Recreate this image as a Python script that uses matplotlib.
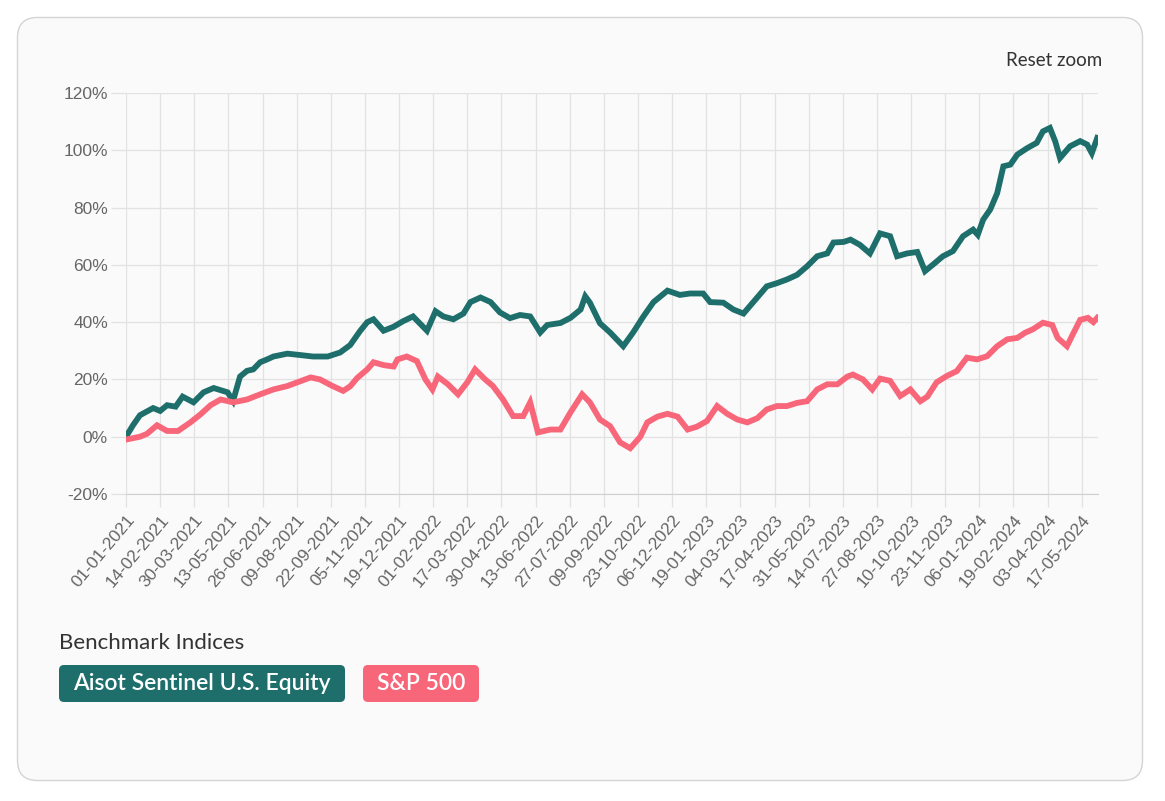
import matplotlib
matplotlib.use("Agg")
import matplotlib.pyplot as plt
import pandas as pd
from matplotlib.patches import FancyBboxPatch

# ── Data (% cumulative return) ───────────────────────────────────────────
aisot_dates = [
    "2021-01-01", "2021-01-10", "2021-01-19", "2021-02-05", "2021-02-14", "2021-02-23",
    "2021-03-06", "2021-03-15", "2021-03-29", "2021-04-11", "2021-04-24", "2021-05-12",
    "2021-05-19", "2021-05-28", "2021-06-06", "2021-06-14", "2021-06-23", "2021-07-02",
    "2021-07-10", "2021-07-28", "2021-08-14", "2021-08-30", "2021-09-18", "2021-10-04",
    "2021-10-17", "2021-10-30", "2021-11-08", "2021-11-16", "2021-11-29", "2021-12-12",
    "2021-12-24", "2022-01-06", "2022-01-24", "2022-02-04", "2022-02-14", "2022-02-27",
    "2022-03-12", "2022-03-21", "2022-04-03", "2022-04-16", "2022-04-28", "2022-05-11",
    "2022-05-24", "2022-06-06", "2022-06-19", "2022-06-28", "2022-07-15", "2022-07-28",
    "2022-08-10", "2022-08-16", "2022-08-22", "2022-09-04", "2022-09-17", "2022-10-04",
    "2022-10-17", "2022-10-30", "2022-11-12", "2022-11-30", "2022-12-16", "2022-12-29",
    "2023-01-15", "2023-01-24", "2023-02-10", "2023-02-23", "2023-03-08", "2023-03-20",
    "2023-04-07", "2023-04-20", "2023-05-03", "2023-05-16", "2023-05-29", "2023-06-11",
    "2023-06-24", "2023-07-02", "2023-07-15", "2023-07-24", "2023-08-05", "2023-08-18",
    "2023-08-31", "2023-09-13", "2023-09-22", "2023-10-05", "2023-10-18", "2023-10-28",
    "2023-11-10", "2023-11-20", "2023-12-03", "2023-12-16", "2023-12-29", "2024-01-04",
    "2024-01-11", "2024-01-20", "2024-01-29", "2024-02-06", "2024-02-15", "2024-02-24",
    "2024-03-08", "2024-03-20", "2024-03-28", "2024-04-06", "2024-04-13", "2024-04-19",
    "2024-05-02", "2024-05-15", "2024-05-24", "2024-05-30", "2024-06-06",
]
aisot_vals = [
    0, 4, 7.5, 10, 9, 11,
    10.5, 14, 12, 15.5, 17, 15.5,
    12.5, 21, 23, 23.5, 26, 27,
    28, 29, 28.5, 28, 28, 29.4,
    32, 37, 40, 41, 37, 38.4,
    40.3, 42, 37, 43.8, 42, 41,
    43, 47, 48.6, 47, 43.4, 41.4,
    42.5, 42, 36.4, 39, 39.7, 41.5,
    44.4, 49, 46.8, 39.6, 36.4, 31.6,
    36.5, 42, 47, 51, 49.5, 50,
    50, 47, 46.8, 44.4, 43, 46.8,
    52.5, 53.6, 54.9, 56.5, 59.5, 63,
    64, 67.8, 68, 68.8, 67, 64,
    71, 70, 63, 64, 64.5, 57.8,
    60.7, 63, 64.8, 70, 72.3, 70.5,
    75.8, 79.3, 85, 94.4, 95, 98.5,
    100.8, 102.6, 106.6, 107.8, 103, 97.3,
    101.4, 103.2, 102, 99, 104.3,
]

sp_dates = [
    "2021-01-01", "2021-01-19", "2021-01-28", "2021-02-10", "2021-02-23", "2021-03-09",
    "2021-03-25", "2021-04-07", "2021-04-20", "2021-05-03", "2021-05-19", "2021-06-06",
    "2021-06-23", "2021-07-10", "2021-07-28", "2021-08-14", "2021-08-27", "2021-09-08",
    "2021-09-25", "2021-10-08", "2021-10-17", "2021-10-26", "2021-11-08", "2021-11-16",
    "2021-11-29", "2021-12-12", "2021-12-17", "2021-12-29", "2022-01-11", "2022-01-22",
    "2022-01-31", "2022-02-07", "2022-02-20", "2022-03-05", "2022-03-17", "2022-03-27",
    "2022-04-09", "2022-04-19", "2022-05-02", "2022-05-15", "2022-05-28", "2022-06-06",
    "2022-06-16", "2022-07-02", "2022-07-15", "2022-07-28", "2022-08-12", "2022-08-22",
    "2022-09-04", "2022-09-17", "2022-09-30", "2022-10-13", "2022-10-26", "2022-11-04",
    "2022-11-17", "2022-11-30", "2022-12-13", "2022-12-26", "2023-01-07", "2023-01-20",
    "2023-02-02", "2023-02-15", "2023-02-28", "2023-03-13", "2023-03-26", "2023-04-07",
    "2023-04-20", "2023-05-03", "2023-05-16", "2023-05-29", "2023-06-11", "2023-06-24",
    "2023-07-07", "2023-07-20", "2023-07-27", "2023-08-09", "2023-08-21", "2023-08-31",
    "2023-09-13", "2023-09-26", "2023-10-09", "2023-10-22", "2023-10-31", "2023-11-12",
    "2023-11-25", "2023-12-08", "2023-12-21", "2024-01-03", "2024-01-16", "2024-01-29",
    "2024-02-11", "2024-02-24", "2024-03-05", "2024-03-15", "2024-03-28", "2024-04-09",
    "2024-04-16", "2024-04-28", "2024-05-06", "2024-05-15", "2024-05-25", "2024-06-01",
    "2024-06-06",
]
sp_vals = [
    -1, 0, 1, 4, 2, 2,
    5, 7.8, 11, 13, 12, 13,
    14.8, 16.5, 17.7, 19.4, 20.7, 20,
    17.6, 16, 17.6, 20.5, 23.5, 26,
    25, 24.5, 27, 28, 26.4, 20,
    16.5, 21, 18.3, 14.8, 19, 23.5,
    20, 17.7, 13, 7.2, 7.2, 12,
    1.5, 2.5, 2.5, 8.5, 14.8, 12,
    6, 3.7, -2, -4, 0, 5,
    7, 8, 7, 2.5, 3.5, 5.5,
    10.7, 8, 6, 5, 6.5, 9.5,
    10.7, 10.7, 11.8, 12.4, 16.5, 18.3,
    18.3, 21, 21.7, 20, 16.5, 20.3,
    19.5, 14.2, 16.5, 12.4, 14, 19,
    21.2, 22.9, 27.6, 27, 28.1, 31.6,
    34, 34.5, 36.3, 37.5, 39.8, 39,
    34.5, 31.6, 36, 40.8, 41.5, 40,
    41.5,
]

tick_labels = [
    "01-01-2021", "14-02-2021", "30-03-2021", "13-05-2021", "26-06-2021", "09-08-2021",
    "22-09-2021", "05-11-2021", "19-12-2021", "01-02-2022", "17-03-2022", "30-04-2022",
    "13-06-2022", "27-07-2022", "09-09-2022", "23-10-2022", "06-12-2022", "19-01-2023",
    "04-03-2023", "17-04-2023", "31-05-2023", "14-07-2023", "27-08-2023", "10-10-2023",
    "23-11-2023", "06-01-2024", "19-02-2024", "03-04-2024", "17-05-2024",
]
y_ticks = [-20, 0, 20, 40, 60, 80, 100, 120]

series_names = ["Aisot Sentinel U.S. Equity", "S&P 500"]
TEAL = "#1e6f6b"
PINK = "#f8667a"

# ── Figure & card background (pixel coords) ──────────────────────────────
W, H = 1165, 801
fig = plt.figure(figsize=(W / 100, H / 100), dpi=100, facecolor="white")
bg = fig.add_axes([0, 0, 1, 1])
bg.set_xlim(0, W)
bg.set_ylim(H, 0)
bg.axis("off")
bg.add_patch(FancyBboxPatch((17.5, 17.5), 1125, 763,
                            boxstyle="round,pad=0,rounding_size=20",
                            fc="#fafafa", ec="#d4d4d4", lw=1.0))

bg.text(1102, 60, "Reset zoom", ha="right", va="center",
        fontsize=13.5, color="#333333", family="Lato")
bg.text(59, 643, "Benchmark Indices", ha="left", va="center",
        fontsize=16, color="#333333", family="Lato")

# legend pills
pills = [(59, 286, TEAL), (363, 116, PINK)]
for (x0, w, col), name in zip(pills, series_names):
    bg.add_patch(FancyBboxPatch((x0, 665), w, 37,
                                boxstyle="round,pad=0,rounding_size=5",
                                fc=col, ec="none"))
    bg.text(x0 + w / 2, 684, name, ha="center", va="center",
            fontsize=16.5, color="white", family="Lato", weight="semibold")

# ── Main chart ───────────────────────────────────────────────────────────
ax = fig.add_axes([126 / W, 1 - 494 / H, 972 / W, 401 / H])
ax.set_facecolor("none")

ax.plot(pd.to_datetime(aisot_dates), aisot_vals, color=TEAL, lw=4.2,
        solid_joinstyle="miter", zorder=3)
ax.plot(pd.to_datetime(sp_dates), sp_vals, color=PINK, lw=4.2,
        solid_joinstyle="miter", zorder=3)

tick_pos = pd.to_datetime(tick_labels, format="%d-%m-%Y")
ax.set_xticks(tick_pos)
ax.set_xticklabels(tick_labels, rotation=50, ha="right", va="top",
                   rotation_mode="anchor", fontsize=12.5, color="#666666",
                   family="Liberation Sans")
ax.set_yticks(y_ticks)
ax.set_yticklabels([f"{v}%" for v in y_ticks], fontsize=12.5,
                   color="#666666", family="Liberation Sans")
ax.set_xlim(pd.Timestamp("2021-01-01"), pd.Timestamp("2024-06-07"))
ax.set_ylim(-20, 120)

ax.grid(True, color="#e2e2e2", lw=0.9, zorder=0)
ax.tick_params(axis="y", length=11, color="#e2e2e2", width=0.9, pad=2)
ax.tick_params(axis="x", length=9, color="#e2e2e2", width=0.9, pad=4)
for s in ["top", "right", "left"]:
    ax.spines[s].set_visible(False)
ax.spines["bottom"].set_color("#d0d0d0")

fig.savefig("out.png", dpi=100, facecolor="white")
